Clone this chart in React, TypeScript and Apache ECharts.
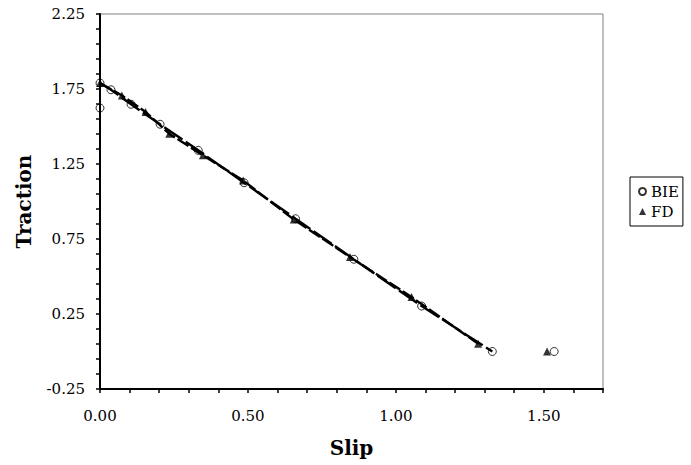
import React, { useEffect, useRef } from "react";
import * as echarts from "echarts";

const bieSlip = [0, 0, 0.037, 0.105, 0.203, 0.332, 0.487, 0.661, 0.858, 1.087, 1.326, 1.535];
const bieTraction = [1.623, 1.79, 1.745, 1.648, 1.515, 1.341, 1.125, 0.885, 0.615, 0.303, 0.0, 0.0];
const fdSlip = [0, 0.074, 0.154, 0.234, 0.348, 0.484, 0.655, 0.845, 1.053, 1.278, 1.511];
const fdTraction = [1.79, 1.707, 1.597, 1.452, 1.308, 1.14, 0.88, 0.63, 0.363, 0.052, 0.0];
const xTickLabels = ["0.00", "0.50", "1.00", "1.50"];
const yTickLabels = ["-0.25", "0.25", "0.75", "1.25", "1.75", "2.25"];

const Y_SHIFT = 0.25; // y axis drawn from -0.25; shift so ticks start at a multiple of interval
const FONT = "DejaVu Serif";

function pts(xs: number[], ys: number[]) {
  return xs.map((x, i) => [x, ys[i] + Y_SHIFT]);
}

export default function App() {
  const ref = useRef<HTMLDivElement>(null);
  useEffect(() => {
    if (!ref.current) return;
    const chart = echarts.init(ref.current, null, { renderer: "svg" });
    const biePts = pts(bieSlip, bieTraction);
    const fdPts = pts(fdSlip, fdTraction);
    chart.setOption({
      animation: false,
      backgroundColor: "#fff",
      textStyle: { fontFamily: FONT },
      grid: {
        left: 100,
        right: 88,
        top: 14,
        bottom: 76,
        show: true,
        borderColor: "#808080",
        borderWidth: 1,
      },
      legend: {
        data: ["BIE", "FD"],
        orient: "vertical",
        left: 630,
        top: 177,
        borderColor: "#000",
        borderWidth: 1,
        padding: [7, 4, 7, 8],
        itemWidth: 7,
        itemHeight: 7,
        itemGap: 5,
        textStyle: { fontFamily: FONT, fontSize: 15, color: "#000" },
      },
      xAxis: {
        type: "value",
        min: 0,
        max: 1.7,
        interval: 0.1,
        name: "Slip",
        nameLocation: "middle",
        nameGap: 49,
        nameTextStyle: { fontFamily: FONT, fontSize: 20, fontWeight: "bold", color: "#000" },
        splitLine: { show: false },
        axisLine: { show: true, lineStyle: { color: "#000", width: 2 } },
        axisTick: { show: true, length: 4, lineStyle: { color: "#000", width: 1.5 } },
        axisLabel: {
          margin: 19,
          fontSize: 15,
          color: "#000",
          fontFamily: FONT,
          formatter: (v: number) => {
            const k = v / 0.5;
            if (Math.abs(k - Math.round(k)) < 1e-6) {
              const idx = Math.round(k);
              return xTickLabels[idx] ?? "";
            }
            return "";
          },
        },
      },
      yAxis: {
        type: "value",
        min: 0,
        max: 2.5,
        interval: 0.1,
        name: "Traction",
        nameLocation: "middle",
        nameGap: 66,
        nameRotate: 90,
        nameTextStyle: { fontFamily: FONT, fontSize: 20, fontWeight: "bold", color: "#000" },
        splitLine: { show: false },
        axisLine: { show: true, lineStyle: { color: "#000", width: 2 } },
        axisTick: { show: true, length: 4, lineStyle: { color: "#000", width: 1.5 } },
        axisLabel: {
          margin: 15,
          fontSize: 15,
          color: "#000",
          fontFamily: FONT,
          formatter: (v: number) => {
            const k = v / 0.5;
            if (Math.abs(k - Math.round(k)) < 1e-6) {
              const idx = Math.round(k);
              return yTickLabels[idx] ?? "";
            }
            return "";
          },
        },
      },
      series: [
        {
          name: "BIE curve",
          type: "line",
          data: biePts.slice(1, 11),
          symbol: "none",
          silent: true,
          lineStyle: { color: "#000", width: 2.4, type: [22, 4] },
          z: 2,
        },
        {
          name: "FD curve",
          type: "line",
          data: fdPts.slice(0, 10),
          symbol: "none",
          silent: true,
          lineStyle: { color: "#000", width: 2.4, type: [13, 3] },
          z: 2,
        },
        {
          name: "BIE",
          type: "scatter",
          data: biePts,
          symbol: "circle",
          symbolSize: 8,
          itemStyle: { color: "rgba(255,255,255,0)", borderColor: "#000", borderWidth: 1 },
          z: 4,
        },
        {
          name: "FD",
          type: "scatter",
          data: fdPts,
          symbol: "triangle",
          symbolSize: 8,
          itemStyle: { color: "#000" },
          z: 3,
        },
      ],
    });
    return () => chart.dispose();
  }, []);
  return (
    <div
      ref={ref}
      style={{ position: "absolute", left: 0, top: 0, width: 691, height: 465 }}
    />
  );
}
